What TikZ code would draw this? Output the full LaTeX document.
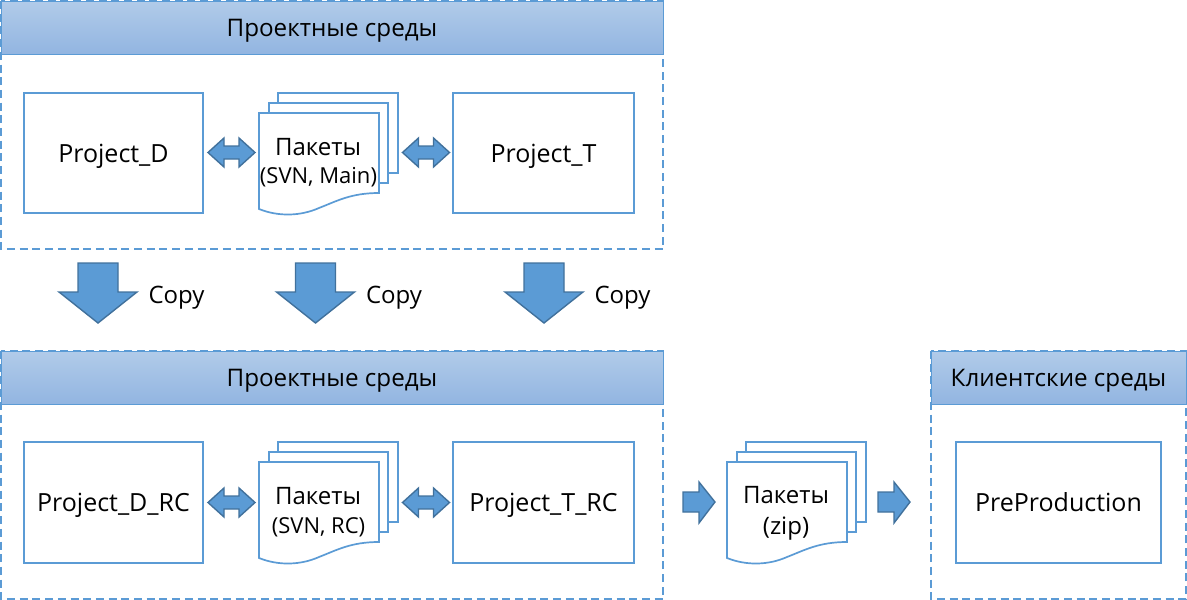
\documentclass[tikz,border=0pt]{standalone}
\usepackage{fontspec}
\setmainfont{Open Sans}
\definecolor{linec}{HTML}{5B9BD5}
\definecolor{arrowline}{HTML}{41719C}
\definecolor{headtop}{HTML}{B1CBE9}
\definecolor{headbot}{HTML}{92B5E1}
\tikzset{
  framebox/.style={draw=linec,line width=1.5pt,dash pattern=on 8pt off 4.7pt},
  headbox/.style={draw=linec,line width=0.6pt,top color=headtop,bottom color=headbot,inner sep=0pt,outer sep=0pt,text height=18pt,text depth=0pt,font=\fontsize{24.2}{28}\selectfont},
  envbox/.style={draw=linec,line width=1.7pt,fill=white,inner sep=0pt,outer sep=0pt,text height=18pt,text depth=0pt,font=\fontsize{25}{28}\selectfont,align=center},
  sheet/.style={draw=linec,line width=1.7pt,fill=white},
  blockarrow/.style={draw=arrowline,line width=1.4pt,fill=linec,line join=miter},
  plainlabel/.style={inner sep=0pt,font=\fontsize{24}{28}\selectfont,align=center},
  smalllabel/.style={inner sep=0pt,font=\fontsize{22}{26}\selectfont,align=center}
}
\newcommand{\envnode}[6]{\node[envbox,minimum width=#4pt-#2pt,minimum height=#5pt-#3pt,anchor=north west] (#1) at (#2,#3) {#6};}
\newcommand{\headnode}[6]{\node[headbox,minimum width=#4pt-#2pt,minimum height=#5pt-#3pt,anchor=north west] (#1) at (#2,#3) {#6};}
\newcommand{\docstack}[2]{\begin{scope}[shift={(#1,#2)}]
  \draw[sheet] (19,0) rectangle (139,80);
  \draw[sheet] (10,10) rectangle (129,90);
  \draw[sheet] (0,20) -- (120,20) -- (120,100) .. controls (92,100) and (78,108) .. (60,115) .. controls (42,123) and (20,124) .. (0,116) -- cycle;
\end{scope}}
\newcommand{\downarrowshape}[1]{\draw[blockarrow] (#1-20,263) -- (#1+20,263) -- (#1+20,292) -- (#1+39,292) -- (#1,323) -- (#1-39,292) -- (#1-20,292) -- cycle;}
\newcommand{\bothways}[2]{\draw[blockarrow] (#1,#2) -- (#1+16,#2-14.5) -- (#1+16,#2-6.5) -- (#1+31,#2-6.5) -- (#1+31,#2-14.5) -- (#1+47,#2) -- (#1+31,#2+14.5) -- (#1+31,#2+6.5) -- (#1+16,#2+6.5) -- (#1+16,#2+14.5) -- cycle;}
\newcommand{\rightshape}[1]{\draw[blockarrow] (#1,492) -- (#1+16,492) -- (#1+16,482) -- (#1+32,502) -- (#1+16,523) -- (#1+16,512) -- (#1,512) -- cycle;}
\begin{document}
\begin{tikzpicture}[x=1pt,y=-1pt]
\useasboundingbox (0,0) rectangle (1187,600);
\draw[framebox] (1,1) rectangle (663,249);
\draw[framebox] (1,351) rectangle (663,599);
\draw[framebox] (931,351) rectangle (1186,599);
\headnode{h1}{1}{1}{663}{54}{Проектные среды}
\headnode{h2}{1}{351}{663}{404}{Проектные среды}
\headnode{h3}{931}{351}{1186}{404}{Клиентские среды}
\envnode{pd}{24}{93}{203}{213}{Project\_D}
\envnode{pt}{453}{93}{634}{213}{Project\_T}
\envnode{pdrc}{24}{442}{203}{563}{Project\_D\_RC}
\envnode{ptrc}{453}{442}{634}{563}{Project\_T\_RC}
\envnode{prep}{956}{442}{1161}{563}{PreProduction}
\docstack{259}{93}
\docstack{259}{442}
\docstack{727}{442}
\node[plainlabel] (d1a) at (318,147) {Пакеты};
\node[smalllabel] (d1b) at (318.5,177) {(SVN, Main)};
\node[plainlabel] (d2a) at (318,496) {Пакеты};
\node[smalllabel] (d2b) at (318.5,527) {(SVN, RC)};
\node[plainlabel] (d3a) at (786,495) {Пакеты};
\node[plainlabel] (d3b) at (786,529) {(zip)};
\bothways{208}{152.5}
\bothways{402.5}{152.5}
\bothways{208}{502.5}
\bothways{402.5}{502.5}
\downarrowshape{98}
\downarrowshape{315.5}
\downarrowshape{544}
\node[plainlabel] (c1) at (176.5,297.5) {Copy};
\node[plainlabel] (c2) at (394,297.5) {Copy};
\node[plainlabel] (c3) at (622.5,297.5) {Copy};
\rightshape{683}
\rightshape{878}
\end{tikzpicture}
\end{document}
